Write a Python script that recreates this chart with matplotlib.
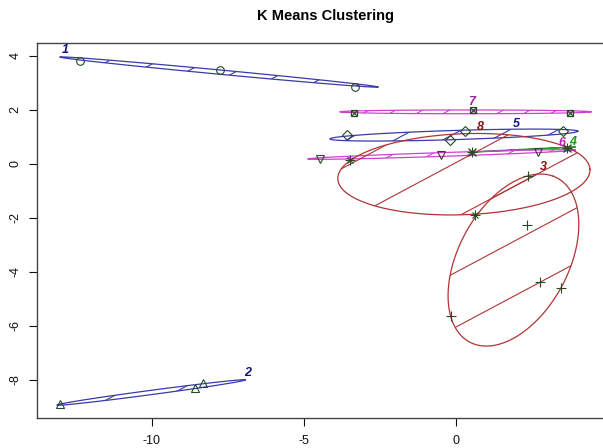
import numpy as np
import matplotlib
matplotlib.use("Agg")
import matplotlib.pyplot as plt
from matplotlib.patches import Polygon

plt.rcParams['font.family'] = ['Liberation Sans', 'DejaVu Sans']
plt.rcParams['axes.unicode_minus'] = False

# cluster ids and their point coordinates
cl1_x = [-12.37, -7.76, -3.32]
cl1_y = [3.81, 3.48, 2.85]
cl2_x = [-13.03, -8.59, -8.32]
cl2_y = [-8.89, -8.30, -8.11]
cl3_x = [2.37, 2.34, 2.76, 3.45, -0.16]
cl3_y = [-0.44, -2.26, -4.37, -4.59, -5.63]
cl4_x = [0.53, 3.65]
cl4_y = [0.44, 0.59]
cl5_x = [-3.59, 0.30, -0.20, 3.52]
cl5_y = [1.07, 1.22, 0.89, 1.22]
cl6_x = [-4.47, -0.49, 2.70]
cl6_y = [0.19, 0.33, 0.44]
cl7_x = [-3.36, 0.56, 3.75]
cl7_y = [1.89, 2.00, 1.89]
cl8_x = [-3.49, 0.62, 0.53, 3.65]
cl8_y = [0.15, -1.89, 0.44, 0.59]

# ellipses: center x, center y, semi major, semi minor, angle (deg)
ell_cx = [-7.80, -10.03, 1.89, 2.22, -0.07, -0.48, 0.31, 0.26]
ell_cy = [3.405, -8.465, -3.56, 0.535, 1.07, 0.35, 1.93, -0.38]
ell_a = [5.26, 3.13, 3.37, 1.70, 4.08, 4.40, 4.13, 4.15]
ell_b = [0.08, 0.08, 1.85, 0.01, 0.17, 0.07, 0.07, 1.50]
ell_ang = [-6.06, 8.54, 67.1, 3.2, 2.0, 2.15, 0.0, 2.5]

labels = ["1", "2", "3", "4", "5", "6", "7", "8"]
lab_x = [-12.86, -6.84, 2.89, 3.85, 1.97, 3.49, 0.53, 0.79]
lab_y = [4.22, -7.74, -0.11, 0.81, 1.48, 0.78, 2.30, 1.37]

ell_col = ["#3a3aa8", "#3a3aa8", "#b03434", "#2a9a2a", "#3a3aa8", "#d040d0", "#d040d0", "#b03434"]
lab_col = ["#14147a", "#14147a", "#8b1010", "#1a9a1a", "#14147a", "#c020c0", "#a020a0", "#8b1010"]
# hatch spacing (in intercept units) and phase, None = no shading
hatch_step = [0.97, 1.07, 2.03, None, 0.95, 0.75, 0.53, 2.03]
hatch_phase = [0.0, 0.3, 0.05, 0.0, 0.2, 0.1, 0.0, 0.05]
hatch_slope = 0.6

fig = plt.figure(figsize=(6.03, 4.48), dpi=100)
ax = fig.add_axes([37/603, 30/448, 578/603, 375/448])
ax.set_xlim(-13.78, 5.23)
ax.set_ylim(-9.41, 4.48)

t = np.linspace(0, 2*np.pi, 400)
for i in range(len(ell_cx)):
    th = np.deg2rad(ell_ang[i])
    ex = ell_cx[i] + ell_a[i]*np.cos(t)*np.cos(th) - ell_b[i]*np.sin(t)*np.sin(th)
    ey = ell_cy[i] + ell_a[i]*np.cos(t)*np.sin(th) + ell_b[i]*np.sin(t)*np.cos(th)
    ax.plot(ex, ey, color=ell_col[i], lw=0.9, zorder=2)
    if hatch_step[i] is None:
        continue
    poly = Polygon(np.column_stack([ex, ey]), closed=True, fill=False, lw=0, transform=ax.transData)
    ax.add_patch(poly)
    cvals = ey - hatch_slope*ex
    k0 = int(np.floor((cvals.min() - hatch_phase[i]) / hatch_step[i]))
    k1 = int(np.ceil((cvals.max() - hatch_phase[i]) / hatch_step[i]))
    xs = np.array([-15, 7])
    for k in range(k0, k1 + 1):
        c = hatch_phase[i] + k*hatch_step[i]
        ln, = ax.plot(xs, hatch_slope*xs + c, color=ell_col[i], lw=0.8, zorder=2)
        ln.set_clip_path(poly)

pc = "#264a26"
ms = 5.5
ax.plot(cl1_x, cl1_y, 'o', mfc='none', mec=pc, ms=ms, mew=0.8, zorder=3)
ax.plot(cl2_x, cl2_y, '^', mfc='none', mec=pc, ms=ms, mew=0.8, zorder=3)
ax.plot(cl3_x, cl3_y, '+', color=pc, ms=7, mew=0.8, zorder=3)
ax.plot(cl4_x, cl4_y, 'x', color=pc, ms=5.5, mew=0.9, zorder=3)
ax.plot(cl5_x, cl5_y, 'D', mfc='none', mec=pc, ms=5, mew=0.8, zorder=3)
ax.plot(cl6_x, cl6_y, 'v', mfc='none', mec=pc, ms=ms, mew=0.8, zorder=3)
ax.plot(cl7_x, cl7_y, 's', mfc='none', mec=pc, ms=5, mew=0.9, zorder=3)
ax.plot(cl7_x, cl7_y, 'x', color=pc, ms=4, mew=0.8, zorder=3)
ax.plot(cl8_x, cl8_y, '+', color=pc, ms=6.5, mew=0.8, zorder=3)
ax.plot(cl8_x, cl8_y, 'x', color=pc, ms=5, mew=0.8, zorder=3)

for i in range(len(labels)):
    ax.text(lab_x[i], lab_y[i], labels[i], color=lab_col[i], fontsize=9,
            fontweight='bold', fontstyle='italic', ha='center', va='center', zorder=4)

ax.set_xticks([-10, -5, 0])
ax.set_yticks([-8, -6, -4, -2, 0, 2, 4])
ax.set_yticklabels(["-8", "-6", "-4", "-2", "0", "2", "4"], rotation=90, va='center')
ax.tick_params(length=6, width=0.8, labelsize=9, colors='#111111')
ax.tick_params(axis='x', pad=6)
ax.tick_params(axis='y', pad=5)
for s in ax.spines.values():
    s.set_linewidth(1.0)
    s.set_color('#444444')

fig.text(0.539, 1 - 16/448, "K Means Clustering", fontsize=10.5, fontweight='bold',
         ha='center', va='center')

fig.savefig("out.png", dpi=100)
